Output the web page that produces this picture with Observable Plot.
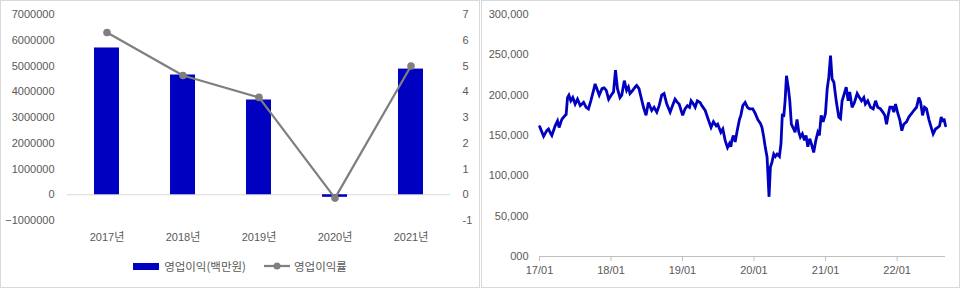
<!DOCTYPE html>
<html>
<head>
<meta charset="utf-8">
<script src="https://cdn.jsdelivr.net/npm/d3@7"></script>
<script src="https://cdn.jsdelivr.net/npm/@observablehq/plot@0.6"></script>
<style>
  html, body { margin: 0; padding: 0; background: #fff; }
  #wrap { position: relative; width: 960px; height: 288px; overflow: hidden; font-family: "Liberation Sans", "Noto Sans CJK KR", sans-serif; color: #595959; }
  .panel { position: absolute; top: 0; height: 288px; box-sizing: border-box; border: 1px solid #d9d9d9; }
  .chart { position: absolute; top: 0; }
  #legend { position: absolute; left: 0; top: 258px; width: 480px; display: flex; justify-content: center; align-items: center; font-size: 11.5px; font-family: "Noto Sans CJK KR", "Liberation Sans", sans-serif; color: #595959; }
  #legend .item { display: flex; align-items: center; }
  #legend .sw { width: 26px; height: 7px; background: #0000C0; margin-right: 5px; }
</style>
</head>
<body>
<div id="wrap">
  <div class="panel" style="left:0;width:480px;"></div>
  <div class="panel" style="left:481px;width:479px;"></div>
  <div class="chart" id="left" style="left:0;"></div>
  <div class="chart" id="right" style="left:481px;"></div>
  <div id="legend">
    <div class="item"><div class="sw"></div><span>영업이익(백만원)</span></div>
    <div class="item" style="margin-left:18px;">
      <svg width="26" height="10" style="margin-right:4px;"><line x1="0" y1="5" x2="26" y2="5" stroke="#808080" stroke-width="2.25"/><circle cx="13" cy="5" r="3.5" fill="#808080"/></svg>
      <span>영업이익률</span>
    </div>
  </div>
</div>
<script>
// ---- Left chart data ----
const years = ["2017년", "2018년", "2019년", "2020년", "2021년"];
const opProfit = [5700000, 4650000, 3680000, -100000, 4880000]; // 영업이익(백만원)
const opMargin = [6.3, 4.63, 3.78, -0.13, 5.0];                  // 영업이익률 (%)
const leftTicks = [-1000000, 0, 1000000, 2000000, 3000000, 4000000, 5000000, 6000000, 7000000];

// ---- Right chart data ----
const priceDates = [
"2017-01-02","2017-01-22","2017-02-07","2017-02-16","2017-02-28","2017-03-05","2017-03-22","2017-04-03","2017-04-11","2017-04-25",
"2017-05-12","2017-05-17","2017-05-24","2017-05-31","2017-06-10","2017-06-20","2017-07-02","2017-07-14","2017-07-28","2017-08-14",
"2017-08-27","2017-09-08","2017-09-20","2017-10-04","2017-10-12","2017-10-21","2017-11-02","2017-11-16","2017-11-27","2017-12-08",
"2017-12-20","2018-01-02","2018-01-14","2018-01-24","2018-02-03","2018-02-16","2018-02-25","2018-03-10","2018-03-22","2018-03-31",
"2018-04-08","2018-04-22","2018-05-04","2018-05-12","2018-05-24","2018-06-04","2018-06-16","2018-06-29","2018-07-11","2018-07-28",
"2018-08-09","2018-08-23","2018-09-04","2018-09-17","2018-09-29","2018-10-13","2018-10-30","2018-11-11","2018-11-24","2018-12-06",
"2018-12-15","2019-01-02","2019-01-14","2019-01-26","2019-02-06","2019-02-14","2019-02-26","2019-03-07","2019-03-18","2019-04-01",
"2019-04-10","2019-04-27","2019-05-14","2019-05-27","2019-06-08","2019-06-22","2019-06-30","2019-07-16","2019-07-26","2019-08-07",
"2019-08-19","2019-08-29","2019-09-05","2019-09-10","2019-09-18","2019-09-27","2019-10-09","2019-10-19","2019-10-26","2019-11-05",
"2019-11-17","2019-11-29","2019-12-09","2019-12-26","2020-01-08","2020-01-22","2020-02-03","2020-02-11","2020-02-20","2020-02-28",
"2020-03-08","2020-03-18","2020-03-25","2020-04-02","2020-04-11","2020-04-19","2020-04-28","2020-05-10","2020-05-18","2020-05-25",
"2020-06-01","2020-06-08","2020-06-15","2020-06-25","2020-07-02","2020-07-10","2020-07-22","2020-07-29","2020-08-08","2020-08-17",
"2020-08-25","2020-09-04","2020-09-15","2020-09-23","2020-10-02","2020-10-12","2020-10-20","2020-11-01","2020-11-12","2020-11-22",
"2020-11-30","2020-12-09","2020-12-19","2020-12-31","2021-01-09","2021-01-17","2021-01-26","2021-02-03","2021-02-12","2021-02-24",
"2021-03-09","2021-03-18","2021-03-26","2021-04-04","2021-04-16","2021-04-26","2021-05-04","2021-05-16","2021-05-28","2021-06-11",
"2021-06-23","2021-07-03","2021-07-15","2021-07-23","2021-08-04","2021-08-18","2021-09-01","2021-09-13","2021-09-24","2021-10-08",
"2021-10-20","2021-10-30","2021-11-08","2021-11-16","2021-11-25","2021-12-07","2021-12-15","2021-12-24","2022-01-05","2022-01-15",
"2022-01-25","2022-02-04","2022-02-18","2022-03-02","2022-03-15","2022-03-27","2022-04-10","2022-04-22","2022-05-01","2022-05-11",
"2022-05-21","2022-05-31","2022-06-12","2022-06-24","2022-07-04","2022-07-16","2022-07-28","2022-08-06","2022-08-14","2022-08-21",
"2022-08-28","2022-09-05"
];
const prices = [
161000,149000,156000,158000,152000,150000,162000,168000,160000,170000,
175000,176000,197000,200000,193000,197000,189000,195000,187000,191000,
185000,183000,193000,206000,214000,208000,200000,208000,209000,206000,
195000,200000,204000,231000,208000,197000,200000,218000,206000,210000,
202000,206000,210000,212000,208000,197000,185000,175000,191000,181000,
185000,179000,187000,200000,202000,189000,179000,187000,195000,191000,
189000,175000,183000,187000,185000,193000,189000,185000,193000,191000,
187000,181000,169000,160000,167000,162000,164000,154000,158000,144000,
135000,140000,136000,144000,150000,142000,158000,170000,175000,187000,
191000,185000,183000,183000,177000,169000,165000,160000,148000,135000,
123000,74000,111000,117000,127000,124000,127000,124000,140000,177000,
173000,193000,224000,208000,193000,164000,158000,154000,170000,154000,
148000,152000,144000,150000,136000,146000,140000,129000,144000,154000,
150000,175000,167000,177000,208000,222000,249000,220000,216000,193000,
173000,171000,193000,200000,210000,193000,204000,185000,191000,202000,
197000,193000,197000,189000,193000,185000,183000,193000,185000,183000,
179000,175000,164000,175000,185000,185000,179000,189000,177000,169000,
156000,164000,167000,173000,177000,181000,185000,197000,191000,175000,
185000,183000,170000,160000,152000,158000,160000,162000,173000,167000,
171000,162000
];
const rightTicks = [0, 50000, 100000, 150000, 200000, 250000, 300000];
const rightTickLabels = ["000", "50,000", "100,000", "150,000", "200,000", "250,000", "300,000"];
const xTickYears = [2017, 2018, 2019, 2020, 2021, 2022];

const fontStyle = { fontFamily: '"Liberation Sans", "Noto Sans CJK KR", sans-serif', fontSize: "11px", color: "#595959", background: "transparent", overflow: "visible" };

// ---- Left chart ----
const left = years.map((y, i) => ({ year: y, profit: opProfit[i], margin: opMargin[i] }));
const leftPlot = Plot.plot({
  width: 480, height: 250,
  marginLeft: 67, marginRight: 30, marginTop: 14, marginBottom: 30,
  style: fontStyle,
  x: { domain: years, paddingInner: 0.67, paddingOuter: 0.335, label: null },
  y: { domain: [-1000000, 7000000], label: null },
  marks: [
    Plot.ruleY([0], { stroke: "#d9d9d9", strokeWidth: 1 }),
    Plot.barY(left, { x: "year", y: "profit", fill: "#0000C0" }),
    Plot.line(left, { x: "year", y: d => d.margin * 1000000, stroke: "#7f7f7f", strokeWidth: 2.25 }),
    Plot.dot(left, { x: "year", y: d => d.margin * 1000000, r: 3.8, fill: "#7f7f7f" }),
    Plot.axisY(leftTicks, { anchor: "left", tickSize: 0, tickPadding: 13, tickFormat: d3.format("d"), label: null }),
    Plot.axisY(leftTicks, { anchor: "right", tickSize: 0, tickPadding: 12, tickFormat: d => String(d / 1000000), textAnchor: "start", label: null }),
    Plot.axisX({ tickSize: 0, tickPadding: 13, label: null })
  ]
});
document.getElementById("left").appendChild(leftPlot);

// ---- Right chart ----
const series = priceDates.map((d, i) => ({ date: new Date(d), price: prices[i] }));
const xTicks = xTickYears.map(y => new Date(Date.UTC(y, 0, 1)));
const rightPlot = Plot.plot({
  width: 479, height: 288,
  marginLeft: 58, marginRight: 15, marginTop: 14, marginBottom: 32,
  style: fontStyle,
  x: { type: "utc", domain: [new Date("2017-01-01"), new Date("2022-09-05")], label: null },
  y: { domain: [0, 300000], label: null },
  marks: [
    Plot.ruleY([0], { stroke: "#bfbfbf", strokeWidth: 1 }),
    Plot.line(series, { x: "date", y: "price", stroke: "#0000C0", strokeWidth: 2.8, strokeLinejoin: "miter", strokeMiterlimit: 3 }),
    Plot.axisY(rightTicks, { anchor: "left", tickSize: 0, tickPadding: 11, tickFormat: d => rightTickLabels[rightTicks.indexOf(d)], label: null }),
    Plot.axisX(xTicks, { tickSize: 5, tickPadding: 5, stroke: "#bfbfbf", fill: "#595959", tickFormat: d3.utcFormat("%y/%m"), label: null })
  ]
});
document.getElementById("right").appendChild(rightPlot);
</script>
</body>
</html>
